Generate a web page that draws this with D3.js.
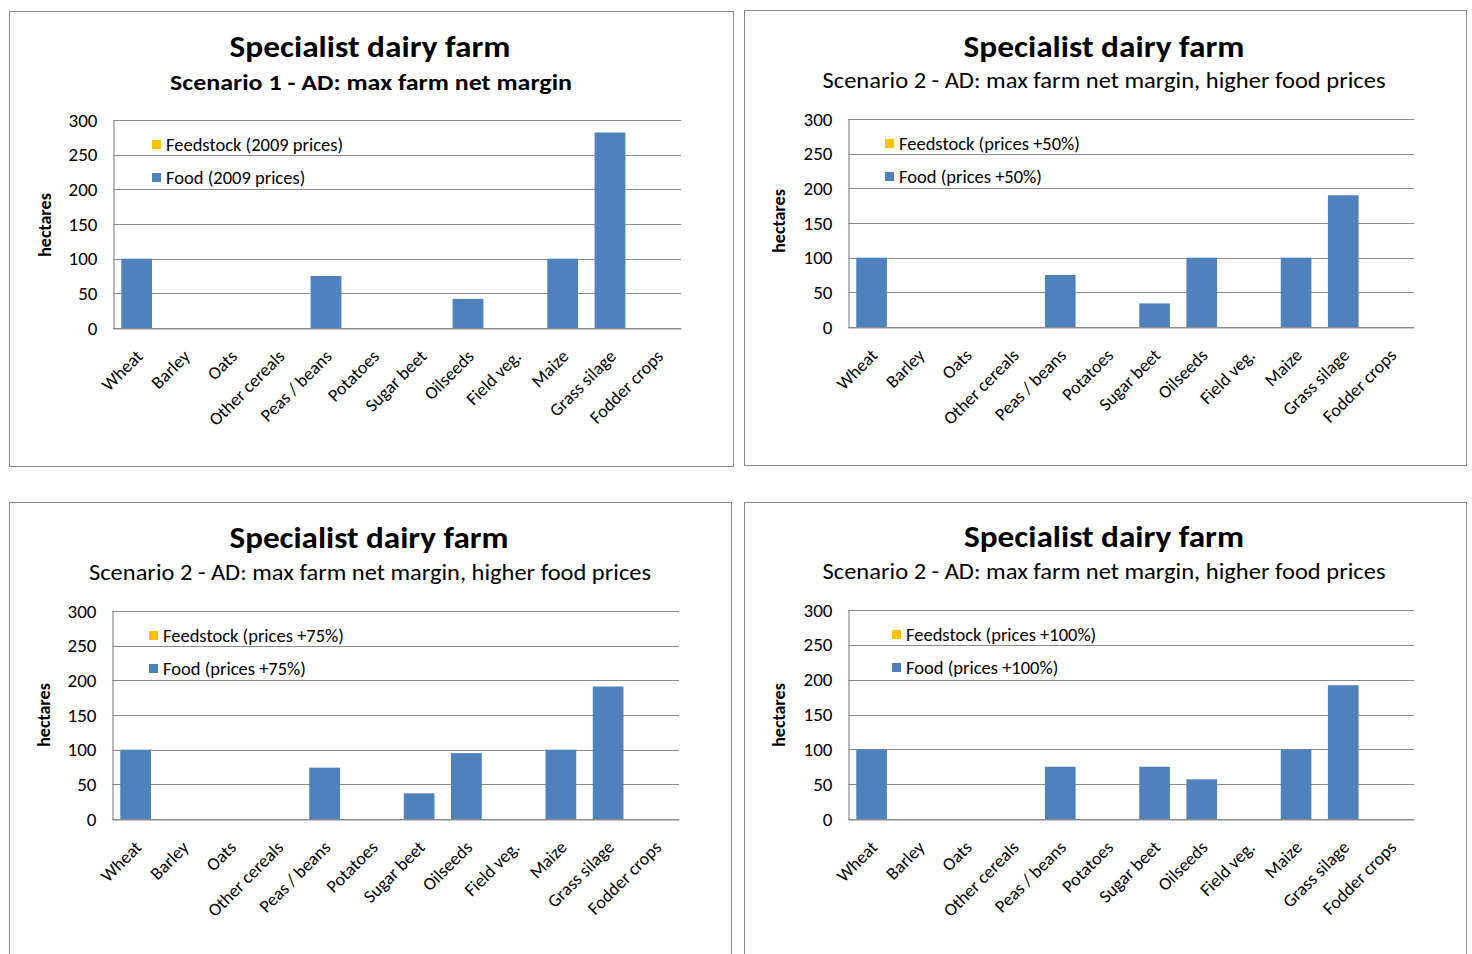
<!DOCTYPE html>
<html>
<head>
<meta charset="utf-8">
<script src="https://cdn.jsdelivr.net/npm/d3@7"></script>
<style>
  html, body { margin: 0; padding: 0; background: #ffffff; }
  svg { display: block; }
  text { font-family: Carlito, Lato, "Liberation Sans", sans-serif; fill: #000; }
</style>
</head>
<body>
<svg id="chart" width="1472" height="954"></svg>
<script>
// Crop categories on the x axis
const categories = ["Wheat", "Barley", "Oats", "Other cereals", "Peas / beans", "Potatoes",
  "Sugar beet", "Oilseeds", "Field veg.", "Maize", "Grass silage", "Fodder crops"];

// Y axis ticks (hectares)
const yTicks = [0, 50, 100, 150, 200, 250, 300];

// Hectares of feedstock crops (none chosen in any scenario)
const feedstock2009 = [0, 0, 0, 0, 0, 0, 0, 0, 0, 0, 0, 0];
const feedstock50   = [0, 0, 0, 0, 0, 0, 0, 0, 0, 0, 0, 0];
const feedstock75   = [0, 0, 0, 0, 0, 0, 0, 0, 0, 0, 0, 0];
const feedstock100  = [0, 0, 0, 0, 0, 0, 0, 0, 0, 0, 0, 0];

// Hectares of food crops
const food2009 = [100, 0, 0, 0, 75, 0, 0, 42, 0, 100, 282, 0];
const food50   = [100, 0, 0, 0, 75, 0, 34, 100, 0, 100, 190, 0];
const food75   = [100, 0, 0, 0, 74, 0, 37, 95, 0, 100, 191, 0];
const food100  = [100, 0, 0, 0, 75, 0, 75, 57, 0, 100, 192, 0];

// Titles and legend labels
const mainTitle = "Specialist dairy farm";
const subtitles = [
  "Scenario 1 - AD: max farm net margin",
  "Scenario 2 - AD: max farm net margin, higher food prices",
  "Scenario 2 - AD: max farm net margin, higher food prices",
  "Scenario 2 - AD: max farm net margin, higher food prices"
];
const priceLabels = ["2009 prices", "prices +50%", "prices +75%", "prices +100%"];
const yAxisTitle = "hectares";

const colors = { feedstock: "#FFC000", food: "#4F81BD", grid: "#8c8c8c", frame: "#8c8c8c" };
const fontStack = "Carlito, Lato, 'Liberation Sans', sans-serif";

// Frame and plot geometry for each of the four charts
const layouts = [
  { box: [9.5, 11.5, 724, 455],  plot: [113, 120, 681, 328], title: [370, 57, 281], sub: [371, 90, 402], subBold: true,
    yLab: [45, 225], legend: [152, 140] },
  { box: [744.5, 10.5, 722, 455], plot: [848, 119, 1414, 327], title: [1104, 57, 281], sub: [1104, 88, 563], subBold: false,
    yLab: [779, 221], legend: [885, 139] },
  { box: [9.5, 502.5, 722, 470], plot: [112, 611, 679, 819], title: [369, 548, 279], sub: [370, 580, 562], subBold: false,
    yLab: [44, 715], legend: [149, 631] },
  { box: [744.5, 502.5, 722, 470], plot: [848, 610, 1414, 819], title: [1104, 547, 280], sub: [1104, 579, 563], subBold: false,
    yLab: [779, 715], legend: [892, 630] }
];

const feedSeries = [feedstock2009, feedstock50, feedstock75, feedstock100];
const foodSeries = [food2009, food50, food75, food100];

const svg = d3.select("#chart");

layouts.forEach((L, i) => {
  const g = svg.append("g");
  const [px0, py0, px1, py1] = L.plot;

  // Chart frame
  g.append("rect")
    .attr("x", L.box[0]).attr("y", L.box[1])
    .attr("width", L.box[2]).attr("height", L.box[3])
    .attr("fill", "#fff").attr("stroke", colors.frame).attr("stroke-width", 1);

  // Titles
  g.append("text")
    .attr("x", L.title[0]).attr("y", L.title[1])
    .attr("text-anchor", "middle")
    .attr("font-size", 30).attr("font-weight", "bold")
    .attr("textLength", L.title[2]).attr("lengthAdjust", "spacingAndGlyphs")
    .text(mainTitle);
  g.append("text")
    .attr("x", L.sub[0]).attr("y", L.sub[1])
    .attr("text-anchor", "middle")
    .attr("font-size", 22).attr("font-weight", L.subBold ? "bold" : "normal")
    .attr("textLength", L.sub[2]).attr("lengthAdjust", "spacingAndGlyphs")
    .text(subtitles[i]);

  const x = d3.scaleBand().domain(categories).range([px0, px1]).paddingInner(0.35).paddingOuter(0.175);
  const y = d3.scaleLinear().domain([0, 300]).range([py1, py0]);

  // Horizontal gridlines
  g.append("g")
    .selectAll("line")
    .data(yTicks)
    .join("line")
    .attr("x1", px0).attr("x2", px1)
    .attr("y1", d => Math.round(y(d)) + 0.5).attr("y2", d => Math.round(y(d)) + 0.5)
    .attr("stroke", colors.grid).attr("stroke-width", 1.2);

  // Y axis
  const yAxis = g.append("g")
    .attr("transform", `translate(${px0 + 0.5},0)`)
    .call(d3.axisLeft(y).tickValues(yTicks).tickSize(0).tickPadding(16));
  yAxis.select(".domain").attr("stroke", colors.grid).attr("stroke-width", 1.2);
  yAxis.selectAll("text").attr("font-size", 19).attr("fill", "#000")
    .style("font-family", fontStack);

  // X axis with rotated category labels
  const xAxis = g.append("g")
    .attr("transform", `translate(0,${Math.round(py1) + 0.5})`)
    .call(d3.axisBottom(x).tickSize(0).tickPadding(0));
  xAxis.select(".domain").attr("stroke", colors.grid).attr("stroke-width", 1.2);
  xAxis.selectAll(".tick text")
    .attr("font-size", 18).attr("fill", "#000")
    .style("font-family", fontStack)
    .attr("text-anchor", "end")
    .attr("dy", null)
    .attr("transform", "translate(7,29) rotate(-45)");

  // Stacked bars: food at the bottom, feedstock on top
  const rows = categories.map((c, k) => ({ c, food: foodSeries[i][k], feed: feedSeries[i][k] }));
  g.append("g").selectAll("rect")
    .data(rows)
    .join("rect")
    .attr("x", d => x(d.c)).attr("width", x.bandwidth())
    .attr("y", d => y(d.food)).attr("height", d => y(0) - y(d.food))
    .attr("fill", colors.food);
  g.append("g").selectAll("rect")
    .data(rows)
    .join("rect")
    .attr("x", d => x(d.c)).attr("width", x.bandwidth())
    .attr("y", d => y(d.food + d.feed)).attr("height", d => y(d.food) - y(d.food + d.feed))
    .attr("fill", colors.feedstock);

  // Y axis title
  g.append("text")
    .attr("transform", `translate(${L.yLab[0] + 6},${L.yLab[1]}) rotate(-90)`)
    .attr("text-anchor", "middle")
    .attr("font-size", 18).attr("font-weight", "bold")
    .text(yAxisTitle);

  // Legend
  const legendItems = [
    { label: `Feedstock (${priceLabels[i]})`, color: colors.feedstock },
    { label: `Food (${priceLabels[i]})`, color: colors.food }
  ];
  const lg = g.append("g").attr("transform", `translate(${L.legend[0]},${L.legend[1]})`);
  legendItems.forEach((it, k) => {
    lg.append("rect").attr("x", 0).attr("y", k * 33).attr("width", 9).attr("height", 9).attr("fill", it.color);
    lg.append("text").attr("x", 14).attr("y", k * 33 + 11)
      .attr("font-size", 18.5).text(it.label);
  });
});
</script>
</body>
</html>
